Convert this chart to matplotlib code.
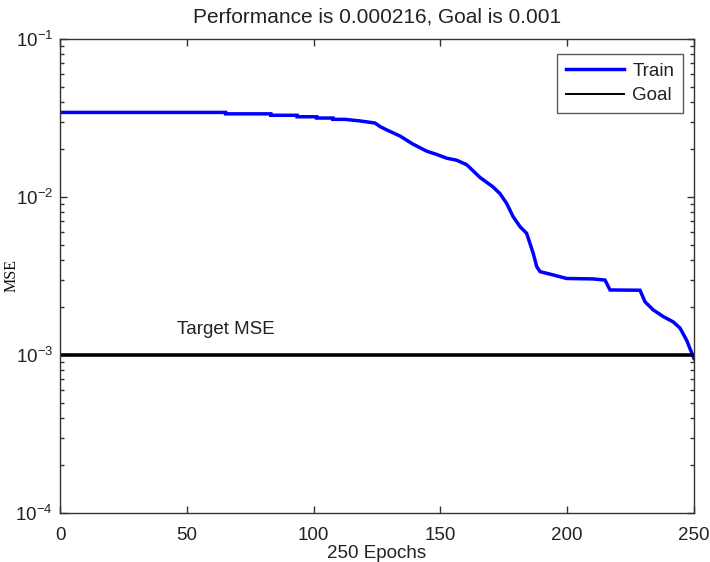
import matplotlib
matplotlib.use("Agg")
import matplotlib.pyplot as plt
from matplotlib.lines import Line2D
from matplotlib.ticker import LogLocator, NullFormatter, FixedLocator

# Training curve (epoch, mean squared error)
epochs = [0, 65.3, 65.3, 83.1, 83.1, 93.5, 93.5, 101.2, 101.2, 107.6, 107.6,
          112.4, 118.3, 124.2, 126.2, 128.8, 134.1, 139.2, 144.6, 148.5,
          152.5, 156.4, 160.4, 165.6, 170.7, 173.5, 176.1, 178.7, 181.4,
          184.0, 185.3, 186.6, 188.0, 189.3, 194.5, 199.8, 210.3, 214.9,
          216.9, 228.7, 230.7, 233.9, 237.9, 241.8, 244.5, 247.1, 249.1, 250]
mse = [0.0343, 0.0343, 0.0336, 0.0336, 0.0329, 0.0329, 0.0322, 0.0322, 0.0316,
       0.0316, 0.0310, 0.0310, 0.0303, 0.0294, 0.0279, 0.0266, 0.0243, 0.0216,
       0.0195, 0.0186, 0.0176, 0.0171, 0.0160, 0.0133, 0.0116, 0.0105,
       0.00912, 0.00750, 0.00649, 0.00589, 0.00509, 0.00440, 0.00362,
       0.00337, 0.00321, 0.00305, 0.00303, 0.00298, 0.00258, 0.00257,
       0.00217, 0.00193, 0.00175, 0.00162, 0.00148, 0.00124, 0.00103, 0.00095]

goal = 0.001
n_epochs = 250
x_ticks = [0, 50, 100, 150, 200, 250]
title_text = "Performance is 0.000216, Goal is 0.001"

plt.rcParams['font.family'] = ['Liberation Sans', 'DejaVu Sans']
plt.rcParams['mathtext.fontset'] = 'custom'
plt.rcParams['mathtext.rm'] = 'Liberation Sans'
plt.rcParams['mathtext.it'] = 'Liberation Sans'
plt.rcParams['mathtext.default'] = 'regular'

TXT = '#222222'
FS = 13.5

fig = plt.figure(figsize=(7.10, 5.62), dpi=100)
ax = fig.add_axes([60 / 710, 1 - 513 / 562, 634 / 710, 474 / 562])

ax.plot(epochs, mse, color='#0000ff', lw=2.5, solid_joinstyle='miter')
ax.plot([0, n_epochs], [goal, goal], color='black', lw=2.6)

ax.set_yscale('log')
ax.set_xlim(0, n_epochs)
ax.set_ylim(1e-4, 1e-1)
ax.xaxis.set_major_locator(FixedLocator(x_ticks))
ax.yaxis.set_major_locator(LogLocator(base=10, numticks=10))
ax.yaxis.set_minor_locator(LogLocator(base=10, subs=range(2, 10), numticks=10))
ax.yaxis.set_minor_formatter(NullFormatter())

ax.tick_params(which='both', direction='in', top=True, right=True,
               labelsize=FS, colors='#333333', labelcolor=TXT)
ax.tick_params(which='major', length=5, width=1)
ax.tick_params(which='minor', length=3, width=1)
ax.tick_params(axis='x', pad=10)
ax.tick_params(axis='y', pad=5)
for s in ax.spines.values():
    s.set_color('#333333')
    s.set_linewidth(1.0)

ax.set_title(title_text, fontsize=15, color=TXT, pad=12)
ax.set_xlabel("250 Epochs", fontsize=FS, color=TXT, labelpad=1)
ax.set_ylabel("MSE", fontsize=11.5, family=['Liberation Serif'], color='#111111')
ax.yaxis.set_label_coords(-0.063, 0.5)

ax.text(46, 1.45e-3, "Target MSE", fontsize=FS, color=TXT, va='center')

handles = [Line2D([], [], color='#0000ff', lw=2.5),
           Line2D([], [], color='black', lw=1.4)]
leg = ax.legend(handles, ["Train", "Goal"], loc='upper right',
                bbox_to_anchor=(0.982, 0.968), fontsize=FS, frameon=True,
                fancybox=False, edgecolor='#333333', handlelength=3.1,
                handletextpad=0.45, labelspacing=0.4, borderpad=0.45,
                borderaxespad=0)
leg.get_frame().set_linewidth(1.0)
for t in leg.get_texts():
    t.set_color(TXT)

fig.savefig("out.png", dpi=100)
